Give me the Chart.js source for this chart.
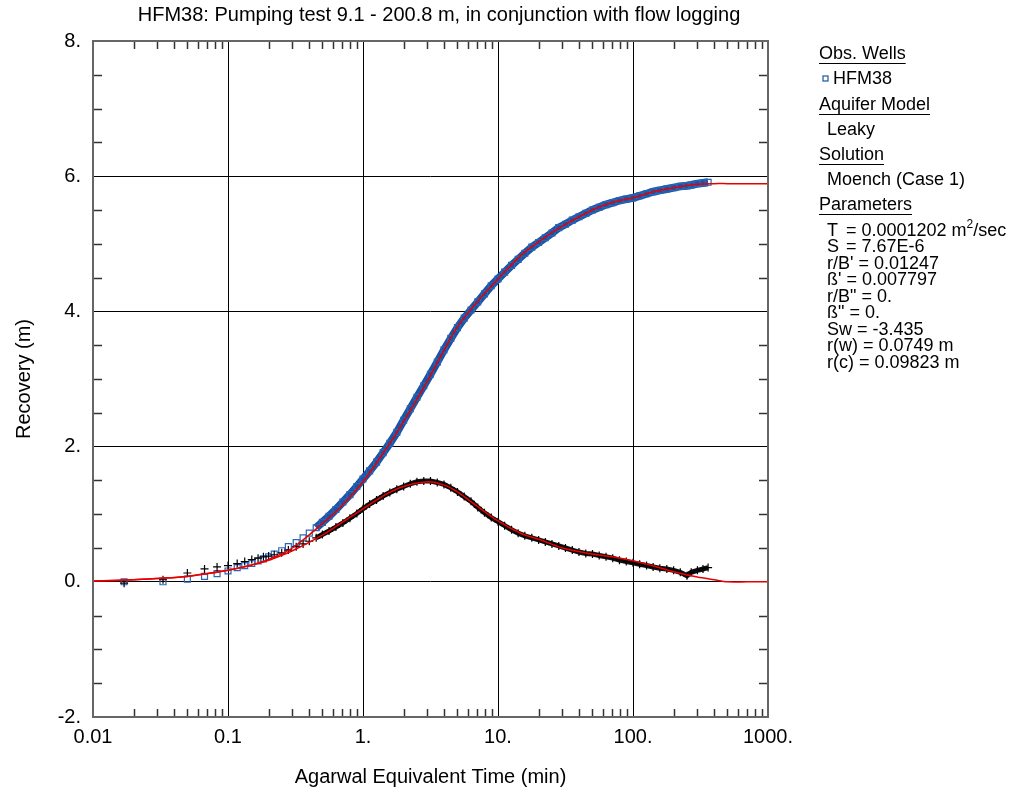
<!DOCTYPE html>
<html>
<head>
<meta charset="utf-8">
<script src="https://cdn.jsdelivr.net/npm/chart.js@4.4.0/dist/chart.umd.min.js"></script>
<style>
  html, body { margin: 0; padding: 0; background: #fff; }
  #wrap { width: 1015px; height: 794px; }
</style>
</head>
<body>
<div id="wrap"><canvas id="chart" width="1015" height="794"></canvas></div>
<script>
const obsTime = [0.017, 0.033, 0.05, 0.067, 0.083, 0.1, 0.117, 0.133, 0.15, 0.167, 0.183, 0.2, 0.22, 0.25, 0.28,
  0.32, 0.36, 0.4, 0.45, 0.5, 0.56, 0.63, 0.71, 0.8, 0.9, 1.0, 1.12, 1.26, 1.41, 1.58, 1.78, 2.0, 2.24, 2.51,
  2.82, 3.16, 3.55, 3.98, 4.47, 5.01, 5.62, 6.31, 7.08, 7.94, 8.91, 10, 11.2, 12.6, 14.1, 15.8, 17.8, 20, 22.4,
  25.1, 28.2, 31.6, 35.5, 39.8, 44.7, 50.1, 56.2, 63.1, 70.8, 79.4, 89.1, 100, 112, 126, 141, 158, 178, 200,
  224, 251, 270, 300, 330, 360];
const obsRecovery = [0.00, 0.00, 0.04, 0.08, 0.12, 0.16, 0.21, 0.24, 0.27, 0.31, 0.34, 0.37, 0.41, 0.46, 0.52,
  0.58, 0.65, 0.72, 0.80, 0.88, 0.97, 1.07, 1.18, 1.29, 1.41, 1.52, 1.64, 1.77, 1.91, 2.05, 2.21, 2.39, 2.56, 2.73,
  2.90, 3.07, 3.25, 3.43, 3.60, 3.76, 3.90, 4.02, 4.14, 4.26, 4.38, 4.48, 4.58, 4.68, 4.77, 4.86, 4.95, 5.02, 5.09,
  5.16, 5.24, 5.29, 5.35, 5.40, 5.45, 5.50, 5.54, 5.58, 5.61, 5.64, 5.66, 5.68, 5.71, 5.74, 5.77, 5.79, 5.81, 5.83,
  5.85, 5.86, 5.87, 5.89, 5.90, 5.91];
const obsDerivative = [-0.02, 0.03, 0.13, 0.19, 0.22, 0.24, 0.27, 0.30, 0.33, 0.35, 0.37, 0.38, 0.40, 0.43, 0.47,
  0.52, 0.56, 0.60, 0.65, 0.70, 0.75, 0.81, 0.87, 0.94, 1.01, 1.08, 1.15, 1.21, 1.27, 1.32, 1.37, 1.41, 1.45, 1.48,
  1.49, 1.49, 1.47, 1.44, 1.39, 1.33, 1.26, 1.19, 1.10, 1.02, 0.95, 0.89, 0.83, 0.77, 0.72, 0.68, 0.65, 0.62, 0.59,
  0.56, 0.53, 0.50, 0.47, 0.44, 0.42, 0.41, 0.39, 0.37, 0.35, 0.32, 0.30, 0.28, 0.26, 0.24, 0.22, 0.20, 0.19, 0.17,
  0.14, 0.09, 0.14, 0.17, 0.19, 0.21];

// fitted curves (Moench case 1)
const fitTime = [0.01, 0.02, 0.03, 0.05, 0.07, 0.1, 0.15, 0.2, 0.3, 0.5, 0.7, 1, 1.5, 2, 3, 4, 5, 7, 10, 15, 20,
  30, 50, 70, 100, 150, 200, 300, 400, 500, 700, 1000];
const fitRecovery = [0.01, 0.03, 0.05, 0.08, 0.12, 0.17, 0.25, 0.33, 0.50, 0.86, 1.13, 1.48, 1.98, 2.37, 2.97,
  3.43, 3.77, 4.14, 4.48, 4.84, 5.03, 5.26, 5.50, 5.61, 5.68, 5.78, 5.83, 5.88, 5.89, 5.89, 5.89, 5.89];
const fitDerivative = [0.01, 0.03, 0.05, 0.08, 0.12, 0.17, 0.25, 0.32, 0.46, 0.69, 0.88, 1.08, 1.30, 1.41, 1.48,
  1.43, 1.33, 1.12, 0.90, 0.71, 0.63, 0.50, 0.41, 0.37, 0.31, 0.22, 0.15, 0.07, 0.03, 0.0, 0.0, 0.0];

const xTicks = [0.01, 0.1, 1, 10, 100, 1000];
const yTicks = [-2, 0, 2, 4, 6, 8];

const titleText = "HFM38: Pumping test 9.1 - 200.8 m, in conjunction with flow logging";
const wellNames = ["HFM38"];
const aquiferModel = "Leaky";
const solutionName = "Moench (Case 1)";
const paramNames = ["T", "S", "r/B'", "ß'", 'r/B"', 'ß"', "Sw", "r(w)", "r(c)"];
const paramValues = ["0.0001202 m", "7.67E-6", "0.01247", "0.007797", "0.", "0.", "-3.435", "0.0749 m", "0.09823 m"];

const FONT = '"Liberation Sans", Arial, sans-serif';
const BLUE = '#1a54a4';
const RED = 'rgb(232,0,0)';

const pts = (xs, ys) => xs.map((t, i) => ({ x: t, y: ys[i] }));
const hideEarly = (col, tmin) => ctx => ctx.p0.parsed.x < tmin ? 'rgba(0,0,0,0)' : col;

function fmtX(v) { return v < 1 ? String(v) : v + '.'; }

// minor ticks, frame, title and the right-hand info panel
const decorations = {
  id: 'decorations',
  afterDraw(chart) {
    const { ctx, chartArea: a, scales: { x, y } } = chart;
    ctx.save();
    ctx.strokeStyle = '#333';
    ctx.lineWidth = 1.5;
    ctx.beginPath();
    for (let d = -2; d < 3; d++) {
      for (let m = 2; m <= 9; m++) {
        const px = Math.round(x.getPixelForValue(m * Math.pow(10, d))) + 0.5;
        ctx.moveTo(px, a.top); ctx.lineTo(px, a.top + 8);
        ctx.moveTo(px, a.bottom); ctx.lineTo(px, a.bottom - 8);
      }
    }
    for (let v = -1.5; v < 8; v += 0.5) {
      if (v % 2 === 0) continue;
      const py = Math.round(y.getPixelForValue(v)) + 0.5;
      ctx.moveTo(a.left, py); ctx.lineTo(a.left + 9, py);
      ctx.moveTo(a.right, py); ctx.lineTo(a.right - 9, py);
    }
    ctx.stroke();

    ctx.strokeStyle = '#666';
    ctx.lineWidth = 2;
    ctx.strokeRect(a.left, a.top, a.right - a.left, a.bottom - a.top);

    // title
    ctx.fillStyle = '#000';
    ctx.font = '20px ' + FONT;
    ctx.textAlign = 'center';
    ctx.textBaseline = 'middle';
    ctx.fillText(titleText, 439, 15);

    // info panel
    ctx.textAlign = 'left';
    ctx.font = '18px ' + FONT;
    const heading = (text, px, py) => {
      ctx.fillText(text, px, py);
      ctx.fillRect(px, py + 9, ctx.measureText(text).width, 1);
    };
    heading('Obs. Wells', 819, 54);
    wellNames.forEach((w, i) => {
      ctx.strokeStyle = BLUE; ctx.lineWidth = 1.2;
      ctx.strokeRect(823, 76 + i * 18, 5, 5);
      ctx.fillText(w, 833, 79 + i * 18);
    });
    heading('Aquifer Model', 819, 105);
    ctx.fillText(aquiferModel, 827, 130);
    heading('Solution', 819, 155);
    ctx.fillText(solutionName, 827, 180);
    heading('Parameters', 819, 205);
    paramNames.forEach((n, i) => {
      const py = 231 + i * 16.5;
      ctx.fillText(n, 827, py);
      let px = Math.max(846, 827 + ctx.measureText(n + ' ').width);
      const s = '= ' + paramValues[i];
      ctx.fillText(s, px, py);
      if (i === 0) {
        px += ctx.measureText(s).width;
        ctx.font = '12px ' + FONT;
        ctx.fillText('2', px, py - 6);
        px += ctx.measureText('2').width;
        ctx.font = '18px ' + FONT;
        ctx.fillText('/sec', px, py);
      }
    });
    ctx.restore();
  }
};

new Chart(document.getElementById('chart'), {
  type: 'scatter',
  data: {
    datasets: [
      { data: pts(fitTime, fitRecovery), showLine: true, borderColor: RED, borderWidth: 1.5,
        pointRadius: 0, tension: 0.3 },
      { data: pts(fitTime, fitDerivative), showLine: true, borderColor: RED, borderWidth: 1.5,
        pointRadius: 0, tension: 0.3 },
      { data: pts(obsTime, obsDerivative), showLine: true, borderColor: '#111', borderWidth: 5,
        segment: { borderColor: hideEarly('#111', 0.45) },
        pointStyle: 'cross', pointRadius: 4, pointBorderColor: '#000', pointBorderWidth: 1.2 },
      { data: pts(obsTime, obsRecovery), showLine: true, borderColor: BLUE, borderWidth: 8,
        segment: { borderColor: hideEarly(BLUE, 0.45) },
        pointStyle: 'rect', pointRadius: 4.2, pointBorderColor: '#2a66b8', pointBorderWidth: 1.2,
        pointBackgroundColor: 'rgba(0,0,0,0)' }
    ]
  },
  options: {
    responsive: false,
    animation: false,
    layout: { padding: { top: 41, right: 247, bottom: 0, left: 0 } },
    plugins: { legend: { display: false }, tooltip: { enabled: false } },
    scales: {
      x: {
        type: 'logarithmic', min: 0.01, max: 1000,
        afterBuildTicks: s => { s.ticks = xTicks.map(v => ({ value: v })); },
        afterFit: s => { s.height = 77; },
        ticks: { callback: v => fmtX(v), color: '#000', padding: 8, maxRotation: 0,
                 font: { family: FONT, size: 20 } },
        grid: { color: '#000', lineWidth: 1, drawTicks: false },
        border: { display: false },
        title: { display: true, text: 'Agarwal Equivalent Time (min)', color: '#000',
                 font: { family: FONT, size: 20 }, padding: { top: 0, bottom: 5 } }
      },
      y: {
        min: -2, max: 8,
        afterBuildTicks: s => { s.ticks = yTicks.map(v => ({ value: v })); },
        afterFit: s => { s.width = 93; },
        ticks: { callback: v => v + '.', color: '#000', padding: 12,
                 font: { family: FONT, size: 20 } },
        grid: { color: '#000', lineWidth: 1, drawTicks: false },
        border: { display: false },
        title: { display: true, text: 'Recovery (m)', color: '#000',
                 font: { family: FONT, size: 20 }, padding: { top: 12, bottom: 0 } }
      }
    }
  },
  plugins: [decorations]
});
</script>
</body>
</html>
